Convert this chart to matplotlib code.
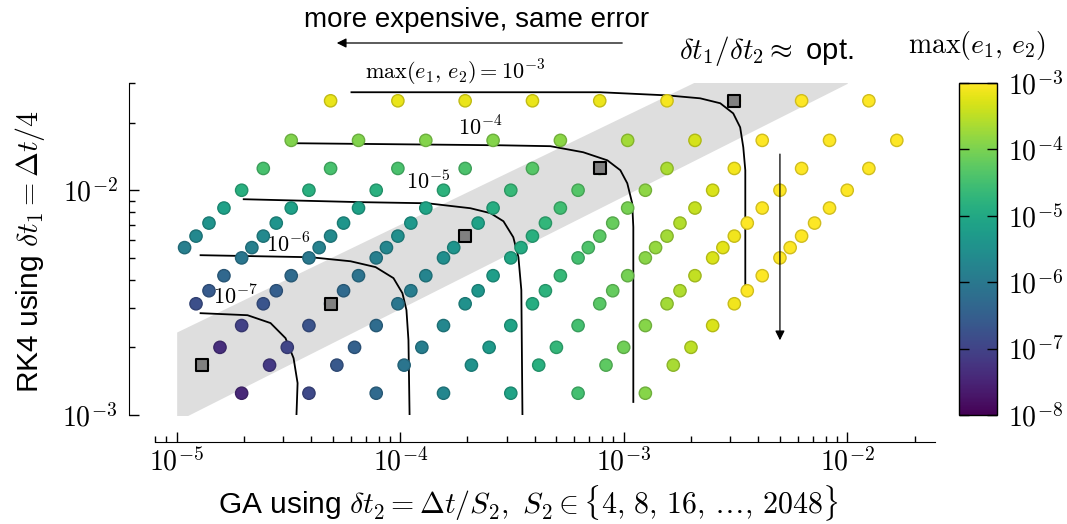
import matplotlib
matplotlib.use("Agg")
import matplotlib.pyplot as plt
import numpy as np
from matplotlib import ticker
from matplotlib.colors import LogNorm
from matplotlib.cm import ScalarMappable

plt.rcParams['font.family'] = ['Liberation Sans', 'DejaVu Sans']
plt.rcParams['mathtext.fontset'] = 'cm'

# time window and number of macro steps per row (dt = T / N)
T = 0.4
n_steps = [4, 6, 8, 10, 12, 14, 16, 18, 20, 24, 28, 32, 40, 50, 60, 80]
s2_values = [4, 8, 16, 32, 64, 128, 256, 512, 1024, 2048]

# log10 of max(e1, e2), one row per N, columns follow s2_values (nan = no run)
nan = np.nan
log_err = [
    [nan, -1.87, -2.41, -2.83, -3.06, -3.14, -3.16, -3.17, -3.17, -3.17],
    [-1.64, -2.24, -2.82, -3.33, -3.69, -3.86, -3.92, -3.93, -3.94, -3.94],
    [-1.90, -2.49, -3.08, -3.63, -4.07, -4.32, -4.41, -4.44, -4.45, -4.45],
    [-2.09, -2.69, -3.28, -3.85, -4.34, -4.65, -4.78, -4.83, -4.84, -4.84],
    [-2.25, -2.85, -3.44, -4.02, -4.54, -4.91, -5.08, -5.14, -5.15, -5.16],
    [-2.38, -2.98, -3.58, -4.16, -4.70, -5.11, -5.33, -5.40, -5.42, -5.43],
    [-2.50, -3.10, -3.70, -4.28, -4.84, -5.28, -5.53, -5.62, -5.65, -5.66],
    [-2.60, -3.20, -3.80, -4.39, -4.95, -5.42, -5.70, -5.81, -5.85, -5.86],
    [-2.69, -3.29, -3.89, -4.49, -5.05, -5.54, -5.86, -5.99, -6.04, nan],
    [-2.85, -3.45, -4.05, -4.65, -5.22, -5.74, -6.10, -6.27, -6.33, nan],
    [-2.98, -3.59, -4.19, -4.78, -5.37, -5.90, -6.30, -6.51, -6.58, nan],
    [-3.10, -3.70, -4.30, -4.90, -5.49, -6.04, -6.47, -6.71, -6.80, nan],
    [-3.29, -3.90, -4.50, -5.10, -5.69, -6.25, -6.73, -7.03, nan, nan],
    [-3.49, -4.09, -4.69, -5.29, -5.89, -6.46, -6.98, -7.34, nan, nan],
    [-3.65, -4.25, -4.85, -5.45, -6.05, -6.63, -7.17, -7.58, nan, nan],
    [-3.90, -4.50, -5.10, -5.70, -6.30, -6.89, -7.45, nan, nan, nan],
]

# optimal S2 for some rows (grey squares)
opt_n = [4, 8, 16, 32, 60]
opt_s2 = [32, 64, 128, 256, 512]

# grey band "dt1/dt2 ~ opt."
band_x = [1e-5, 1e-2]
band_lo = [9.4e-4, 2.99e-2]
band_hi = [2.34e-3, 6.44e-2]

# iso-error lines, log10 coordinates
iso_logx = {
    -3: [-4.218, -3.552, -3.105, -2.805, -2.658, -2.568, -2.510, -2.479, -2.465, -2.456, -2.456],
    -4: [-4.459, -3.552, -3.328, -3.181, -3.073, -3.015, -2.984, -2.962, -2.957, -2.957, -2.957],
    -5: [-4.700, -4.177, -3.878, -3.686, -3.596, -3.538, -3.494, -3.471, -3.458, -3.453],
    -6: [-4.893, -4.401, -4.222, -4.110, -4.030, -3.990, -3.972, -3.963, -3.958],
    -7: [-4.893, -4.683, -4.580, -4.513, -4.477, -4.459, -4.464],
}
iso_logy = {
    -3: [-1.564, -1.564, -1.564, -1.578, -1.591, -1.613, -1.658, -1.720, -1.809, -1.911, -2.422],
    -4: [-1.791, -1.800, -1.804, -1.831, -1.867, -1.911, -1.969, -2.058, -2.164, -2.311, -2.942],
    -5: [-2.040, -2.053, -2.058, -2.080, -2.102, -2.138, -2.209, -2.298, -2.444, -3.0],
    -6: [-2.289, -2.298, -2.316, -2.342, -2.391, -2.458, -2.533, -2.667, -3.0],
    -7: [-2.547, -2.556, -2.591, -2.658, -2.747, -2.858, -3.0],
}
iso_text = [r'$\max(e_1,\, e_2) = 10^{-3}$', r'$10^{-4}$', r'$10^{-5}$',
            r'$10^{-6}$', r'$10^{-7}$']
iso_text_x = [1.77e-4, 2.29e-4, 1.34e-4, 3.17e-5, 1.84e-5]
iso_text_y = [3.34e-2, 1.89e-2, 1.086e-2, 5.70e-3, 3.34e-3]

W, H = 1067, 524
fig = plt.figure(figsize=(W / 100, H / 100), dpi=100)
ax = fig.add_axes([155 / W, 1 - 415 / H, 780 / W, 332 / H])
cax = fig.add_axes([959 / W, 1 - 415 / H, 38 / W, 332 / H])

dt1, dt2, err = [], [], []
for n, row in zip(n_steps, log_err):
    dt = T / n
    for s2, e in zip(s2_values, row):
        if np.isnan(e):
            continue
        dt1.append(dt / 4)
        dt2.append(dt / s2)
        err.append(10.0 ** e)

norm = LogNorm(1e-8, 1e-3)
cmap = plt.get_cmap('viridis')
face = cmap(norm(np.array(err)))
edge = face.copy()
edge[:, :3] *= 0.82

ax.fill_between(band_x, band_lo, band_hi, color='#dedede', lw=0, zorder=0)

for lev in iso_logx:
    ax.plot(10.0 ** np.array(iso_logx[lev]), 10.0 ** np.array(iso_logy[lev]),
            c='k', lw=1.3, zorder=2)
for t, x, y in zip(iso_text, iso_text_x, iso_text_y):
    ax.text(x, y, t, fontsize=16, ha='center', va='center', clip_on=False)

ax.scatter(dt2, dt1, s=78, c=face, edgecolors=edge, linewidths=1, zorder=3)
opt_x = [T / n / s for n, s in zip(opt_n, opt_s2)]
opt_y = [T / n / 4 for n in opt_n]
ax.scatter(opt_x, opt_y, marker='s', s=80, c='0.5', edgecolors='k',
           linewidths=1.5, zorder=4)

ax.set_xscale('log')
ax.set_yscale('log')
ax.set_xlim(8e-6, 2.47e-2)
ax.set_ylim(1e-3, 3e-2)

for s in ['top', 'right']:
    ax.spines[s].set_visible(False)
ax.spines['left'].set_position(('outward', 19))
ax.spines['bottom'].set_position(('outward', 19.5))

fmt = ticker.FuncFormatter(lambda v, p: r'$10^{%d}$' % round(np.log10(v)))
ax.xaxis.set_major_formatter(fmt)
ax.yaxis.set_major_formatter(fmt)
ax.xaxis.set_minor_formatter(ticker.NullFormatter())
ax.yaxis.set_minor_formatter(ticker.NullFormatter())
ax.tick_params(which='both', direction='in', labelsize=20, width=1)
ax.tick_params(which='major', length=7)
ax.tick_params(which='minor', length=4.5)
ax.tick_params(axis='y', which='major', pad=8)
ax.tick_params(axis='x', which='major', pad=4)

# annotations
ax.annotate('', xy=(5.0e-3, 2.09e-3), xytext=(5.0e-3, 1.49e-2),
            arrowprops=dict(arrowstyle='-|>', color='k', lw=0.9, mutation_scale=14))
ax.annotate('', xy=(334 / W, 1 - 43 / H), xytext=(625 / W, 1 - 43 / H),
            xycoords='figure fraction', textcoords='figure fraction',
            arrowprops=dict(arrowstyle='-|>', color='k', lw=0.9, mutation_scale=14))
fig.text(477 / W, 1 - 20 / H, 'more expensive, same error', fontsize=20,
         ha='center', va='center')
fig.text(766 / W, 1 - 51 / H, r'$\delta t_1/\delta t_2 \approx$ opt.', fontsize=21,
         ha='center', va='center')

fig.text(528 / W, 1 - 503 / H,
         r'GA using $\delta t_2 = \Delta t/S_2,\ S_2 \in \{4,\,8,\,16,\,\ldots,\,2048\}$',
         fontsize=21.5, ha='center', va='center')
fig.text(30 / W, 1 - 252 / H, r'RK4 using $\delta t_1 = \Delta t/4$', fontsize=21.5,
         rotation=90, ha='center', va='center')

# colorbar
cb = fig.colorbar(ScalarMappable(norm=norm, cmap=cmap), cax=cax)
cb.set_ticks([1e-8, 1e-7, 1e-6, 1e-5, 1e-4, 1e-3])
cax.yaxis.set_major_formatter(fmt)
cax.yaxis.set_minor_locator(ticker.NullLocator())
cax.tick_params(which='major', direction='in', left=True, right=True,
                length=7, width=1, labelsize=20, pad=8)
cb.outline.set_linewidth(1)
fig.text(977 / W, 1 - 45 / H, r'$\max(e_1,\, e_2)$', fontsize=20,
         ha='center', va='center')

fig.savefig('out.png', dpi=100)
